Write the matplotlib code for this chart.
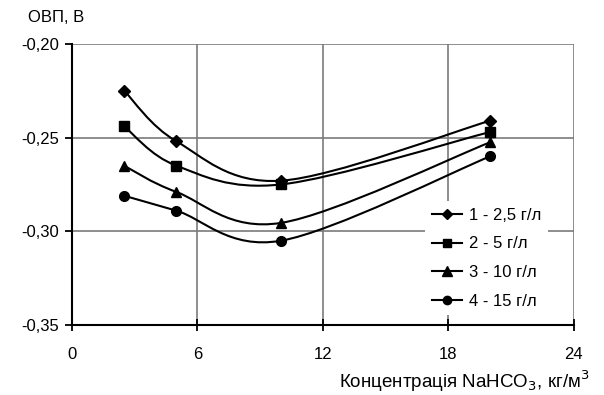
import matplotlib.pyplot as plt
from matplotlib.path import Path
from matplotlib.patches import PathPatch
from matplotlib.lines import Line2D
from matplotlib.ticker import FuncFormatter

plt.rcParams['font.family'] = ['Liberation Sans', 'DejaVu Sans']
plt.rcParams['font.size'] = 12

# NaHCO3 concentration, kg/m3
conc = [2.5, 5, 10, 20]

# redox potential, V, for each NaHCO3 dose in the electrolyte
orp_25 = [-0.225, -0.252, -0.273, -0.241]
orp_5 = [-0.244, -0.265, -0.275, -0.247]
orp_10 = [-0.265, -0.279, -0.2955, -0.2525]
orp_15 = [-0.281, -0.289, -0.305, -0.260]

labels = ['1 - 2,5 г/л', '2 - 5 г/л', '3 - 10 г/л', '4 - 15 г/л']
markers = ['D', 's', '^', 'o']
msizes = [6, 7, 7.5, 7]


def smooth_path(xs, ys):
    # Catmull-Rom style Bezier through the points (like a spreadsheet "smoothed line")
    pts = list(zip(xs, ys))
    n = len(pts)
    verts = [pts[0]]
    codes = [Path.MOVETO]
    for i in range(n - 1):
        p0 = pts[i - 1] if i > 0 else pts[i]
        p1 = pts[i]
        p2 = pts[i + 1]
        p3 = pts[i + 2] if i + 2 < n else pts[i + 1]
        c1 = (p1[0] + (p2[0] - p0[0]) / 6, p1[1] + (p2[1] - p0[1]) / 6)
        c2 = (p2[0] - (p3[0] - p1[0]) / 6, p2[1] - (p3[1] - p1[1]) / 6)
        verts += [c1, c2, p2]
        codes += [Path.CURVE4] * 3
    return Path(verts, codes)


fig = plt.figure(figsize=(6.04, 3.95), dpi=100)
ax = fig.add_axes([0.119, 0.177, 0.831, 0.712])

handles = []
for ys, lab, m, ms in zip([orp_25, orp_5, orp_10, orp_15], labels, markers, msizes):
    ax.add_patch(PathPatch(smooth_path(conc, ys), facecolor='none',
                           edgecolor='black', lw=1.5, zorder=3))
    ax.plot(conc, ys, linestyle='none', marker=m, ms=ms, color='black', zorder=4)
    handles.append(Line2D([], [], color='black', lw=1.5, marker=m, ms=ms - 1, label=lab))

ax.set_xlim(0, 24)
ax.set_ylim(-0.35, -0.20)
ax.set_xticks([0, 6, 12, 18, 24])
ax.set_yticks([-0.35, -0.30, -0.25, -0.20])
ax.yaxis.set_major_formatter(FuncFormatter(lambda v, p: f'{v:.2f}'.replace('.', ',')))

ax.grid(True, color='#7a7a7a', lw=1.2, zorder=1)
ax.set_axisbelow(True)
for side in ['top', 'right']:
    ax.spines[side].set_visible(False)
for side in ['left', 'bottom']:
    ax.spines[side].set_linewidth(1.5)
    ax.spines[side].set_zorder(5)
ax.tick_params(axis='both', direction='inout', length=8, width=1.3, labelsize=12)
ax.tick_params(axis='y', direction='out', length=5, pad=4)
ax.tick_params(axis='x', pad=12)

fig.text(28 / 604, 1 - 18 / 395, 'ОВП, В', fontsize=12, ha='left', va='center')
fig.text(590 / 604, 1 - 381 / 395, 'Концентрація NaHCO$_3$, кг/м$^3$',
         fontsize=13.5, ha='right', va='center')

leg = fig.legend(handles=handles, loc='upper left', bbox_to_anchor=(0.7036, 0.4911),
                 frameon=True, fancybox=False, edgecolor='none', facecolor='white',
                 framealpha=1, fontsize=12, handlelength=1.8, handletextpad=0.45,
                 labelspacing=0.82, borderpad=0.4, borderaxespad=0)
leg.set_zorder(6)

fig.savefig('out.png', dpi=100)
